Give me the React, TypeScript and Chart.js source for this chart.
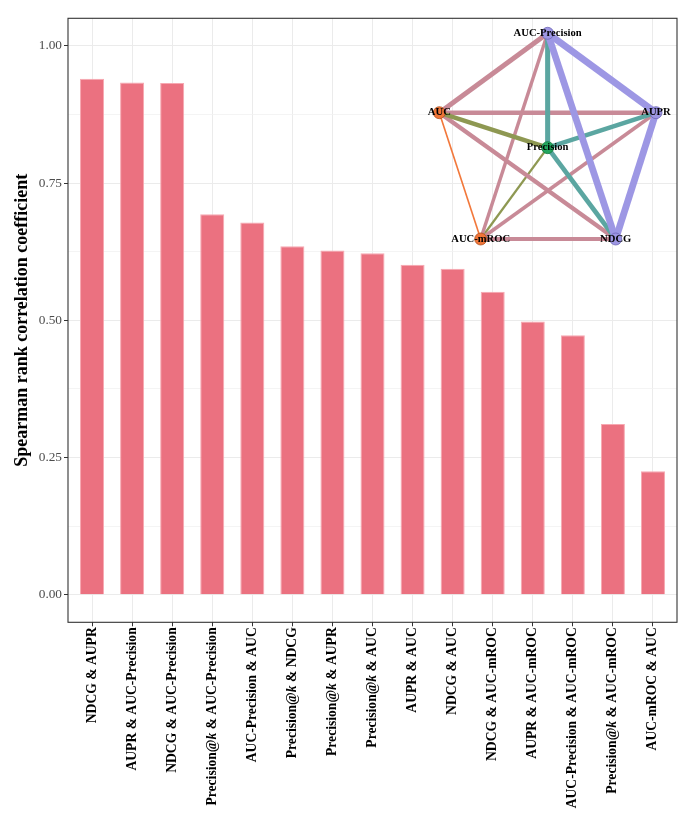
import React, { useEffect, useRef } from 'react';
import { Chart, registerables } from 'chart.js';

Chart.register(...registerables);

// ---------- data ----------
const categories = [
  'NDCG & AUPR',
  'AUPR & AUC-Precision',
  'NDCG & AUC-Precision',
  'Precision@k & AUC-Precision',
  'AUC-Precision & AUC',
  'Precision@k & NDCG',
  'Precision@k & AUPR',
  'Precision@k & AUC',
  'AUPR & AUC',
  'NDCG & AUC',
  'NDCG & AUC-mROC',
  'AUPR & AUC-mROC',
  'AUC-Precision & AUC-mROC',
  'Precision@k & AUC-mROC',
  'AUC-mROC & AUC',
];
const spearman = [0.94, 0.933, 0.932, 0.693, 0.678, 0.635, 0.627, 0.622, 0.601, 0.594, 0.552, 0.498, 0.473, 0.311, 0.225];
const yMajorTicks = [0, 0.25, 0.5, 0.75, 1];
const yMinorTicks = [0.125, 0.375, 0.625, 0.875];
const yTitle = 'Spearman rank correlation coefficient';

// network inset (layout coordinates of the nodes)
const nodeNames = ['AUC-Precision', 'AUC', 'AUPR', 'Precision', 'AUC-mROC', 'NDCG'];
const nodeLayoutX = [0.5, 0, 1, 0.5, 0.191, 0.814];
const nodeLayoutY = [1, 0.614, 0.614, 0.444, 0, 0];
const nodeGroup = [0, 1, 0, 2, 1, 0];

// ---------- styles ----------
const FONT = "'Liberation Serif', 'Times New Roman', serif";
const W = 692;
const H = 834;
const AREA = { left: 68, right: 677, top: 18.3, bottom: 622.3 };
const groupFill = ['#9d96e2', '#f07538', '#22a65e'];
const groupStroke = ['#6d66b8', '#b0501f', '#137a40'];
const pairColor: Record<string, string> = {
  '0-0': '#9d97e4',
  '1-1': '#f2783b',
  '2-2': '#22a65e',
  '0-1': '#c88a97',
  '0-2': '#5ba6a1',
  '1-2': '#8e9852',
};

function nodeIndexOf(label: string): number {
  const name = label.replace('@k', '');
  return nodeNames.indexOf(name);
}

const panelBorder = {
  id: 'panelBorder',
  afterDraw(chart: any) {
    const { ctx, chartArea } = chart;
    ctx.save();
    ctx.strokeStyle = '#333333';
    ctx.lineWidth = 1.1;
    ctx.strokeRect(chartArea.left, chartArea.top, chartArea.right - chartArea.left, chartArea.bottom - chartArea.top);
    ctx.restore();
  },
};

const xLabels = {
  id: 'xLabels',
  afterDraw(chart: any) {
    const { ctx, chartArea } = chart;
    const xs = chart.scales.x;
    const size = 13.6;
    const normal = `bold ${size}px ${FONT}`;
    const italic = `italic bold ${size}px ${FONT}`;
    ctx.save();
    ctx.fillStyle = '#000000';
    ctx.textBaseline = 'middle';
    ctx.textAlign = 'left';
    categories.forEach((label, i) => {
      const px = xs.getPixelForValue(i + 1);
      const py = chartArea.bottom + 5;
      const parts: { t: string; f: string }[] = [];
      const idx = label.indexOf('@k');
      if (idx >= 0) {
        parts.push({ t: label.slice(0, idx + 1), f: normal });
        parts.push({ t: 'k', f: italic });
        parts.push({ t: label.slice(idx + 2), f: normal });
      } else {
        parts.push({ t: label, f: normal });
      }
      let total = 0;
      parts.forEach((p) => {
        ctx.font = p.f;
        total += ctx.measureText(p.t).width;
      });
      ctx.save();
      ctx.translate(px, py);
      ctx.rotate(-Math.PI / 2);
      let cx = -total;
      parts.forEach((p) => {
        ctx.font = p.f;
        ctx.fillText(p.t, cx, 0);
        cx += ctx.measureText(p.t).width;
      });
      ctx.restore();
    });
    ctx.restore();
  },
};

const nodeLabels = {
  id: 'nodeLabels',
  afterDatasetsDraw(chart: any) {
    const { ctx } = chart;
    const sx = chart.scales.x;
    const sy = chart.scales.y;
    ctx.save();
    ctx.font = `bold 10.6px ${FONT}`;
    ctx.fillStyle = '#000000';
    ctx.textAlign = 'center';
    ctx.textBaseline = 'middle';
    nodeNames.forEach((n, i) => {
      ctx.fillText(n, sx.getPixelForValue(nodeLayoutX[i]), sy.getPixelForValue(nodeLayoutY[i]));
    });
    ctx.restore();
  },
};

export default function App() {
  const barRef = useRef<HTMLCanvasElement | null>(null);
  const netRef = useRef<HTMLCanvasElement | null>(null);

  useEffect(() => {
    if (!barRef.current || !netRef.current) return;

    const allY = [...yMajorTicks, ...yMinorTicks].sort((p, q) => p - q);

    const barChart = new Chart(barRef.current, {
      type: 'bar',
      data: {
        datasets: [
          {
            label: 'rho',
            data: spearman.map((v, i) => ({ x: i + 1, y: v })),
            backgroundColor: 'rgb(235,113,128)',
            borderColor: 'rgb(247,168,177)',
            borderWidth: 1,
            borderSkipped: 'start',
            categoryPercentage: 1,
            barPercentage: 0.6,
            grouped: false,
          } as any,
        ],
      },
      plugins: [panelBorder, xLabels],
      options: {
        animation: false,
        responsive: false,
        events: [],
        layout: { padding: { left: 0, top: AREA.top, right: W - AREA.right, bottom: 0 } },
        plugins: { legend: { display: false }, tooltip: { enabled: false } },
        scales: {
          x: {
            type: 'linear',
            min: 0.4,
            max: 15.6,
            offset: false,
            afterBuildTicks: (s: any) => {
              s.ticks = categories.map((_, i) => ({ value: i + 1 }));
            },
            afterFit: (s: any) => {
              s.height = H - AREA.bottom;
            },
            grid: {
              offset: false,
              color: '#ebebeb',
              lineWidth: 1,
              drawTicks: true,
              tickLength: 4,
              tickColor: '#333333',
              tickWidth: 1,
            },
            border: { display: false },
            ticks: { display: false, autoSkip: false },
          },
          y: {
            type: 'linear',
            min: -0.05,
            max: 1.05,
            afterBuildTicks: (s: any) => {
              s.ticks = allY.map((v) => ({ value: v }));
            },
            afterFit: (s: any) => {
              s.width = AREA.left;
            },
            grid: {
              color: (c: any) => (yMajorTicks.includes(c.tick?.value) ? '#ebebeb' : '#f1f1f1'),
              lineWidth: (c: any) => (yMajorTicks.includes(c.tick?.value) ? 1 : 0.8),
              tickLength: 4,
              tickColor: (c: any) => (yMajorTicks.includes(c.tick?.value) ? '#333333' : 'rgba(0,0,0,0)'),
              tickWidth: 1,
            },
            border: { display: false },
            ticks: {
              autoSkip: false,
              padding: 2,
              color: '#4d4d4d',
              font: { family: FONT, size: 13.3 },
              callback: (v: any) => (yMajorTicks.includes(Number(v)) ? Number(v).toFixed(2) : ''),
            },
            title: {
              display: true,
              text: yTitle,
              color: '#000000',
              font: { family: FONT, size: 18, weight: 'bold' },
              padding: { top: 11.7, bottom: 0 },
            },
          },
        },
      } as any,
    });

    // ----- network inset, overlaid on the same panel -----
    const netDatasets: any[] = [];
    categories.forEach((label, i) => {
      const [aName, bName] = label.split(' & ');
      const a = nodeIndexOf(aName);
      const b = nodeIndexOf(bName);
      const ga = Math.min(nodeGroup[a], nodeGroup[b]);
      const gb = Math.max(nodeGroup[a], nodeGroup[b]);
      netDatasets.push({
        type: 'line',
        label: label,
        data: [
          { x: nodeLayoutX[a], y: nodeLayoutY[a] },
          { x: nodeLayoutX[b], y: nodeLayoutY[b] },
        ],
        borderColor: pairColor[`${ga}-${gb}`],
        borderWidth: spearman[i] * 7.3,
        borderCapStyle: 'butt',
        pointRadius: 0,
        pointHoverRadius: 0,
        fill: false,
        tension: 0,
        order: 10 + i,
      });
    });
    netDatasets.push({
      type: 'scatter',
      label: 'nodes',
      data: nodeNames.map((_, i) => ({ x: nodeLayoutX[i], y: nodeLayoutY[i] })),
      pointRadius: 6,
      pointHoverRadius: 6,
      pointBackgroundColor: nodeGroup.map((g) => groupFill[g]),
      pointBorderColor: nodeGroup.map((g) => groupStroke[g]),
      pointBorderWidth: 0.8,
      order: 0,
    });

    const netChart = new Chart(netRef.current, {
      type: 'scatter',
      data: { datasets: netDatasets },
      plugins: [nodeLabels],
      options: {
        animation: false,
        responsive: false,
        events: [],
        layout: { padding: { left: AREA.left, top: AREA.top, right: W - AREA.right, bottom: H - AREA.bottom } },
        plugins: { legend: { display: false }, tooltip: { enabled: false } },
        scales: {
          x: { type: 'linear', display: false, min: -1.7135, max: 1.0969 },
          y: { type: 'linear', display: false, min: -1.8634, max: 1.0729 },
        },
      } as any,
    });

    return () => {
      barChart.destroy();
      netChart.destroy();
    };
  }, []);

  return (
    <div style={{ position: 'absolute', left: 0, top: 0, width: W, height: H, background: '#ffffff' }}>
      <canvas ref={barRef} width={W} height={H} style={{ position: 'absolute', left: 0, top: 0, display: 'block', width: W, height: H }} />
      <canvas ref={netRef} width={W} height={H} style={{ position: 'absolute', left: 0, top: 0, display: 'block', width: W, height: H }} />
    </div>
  );
}
